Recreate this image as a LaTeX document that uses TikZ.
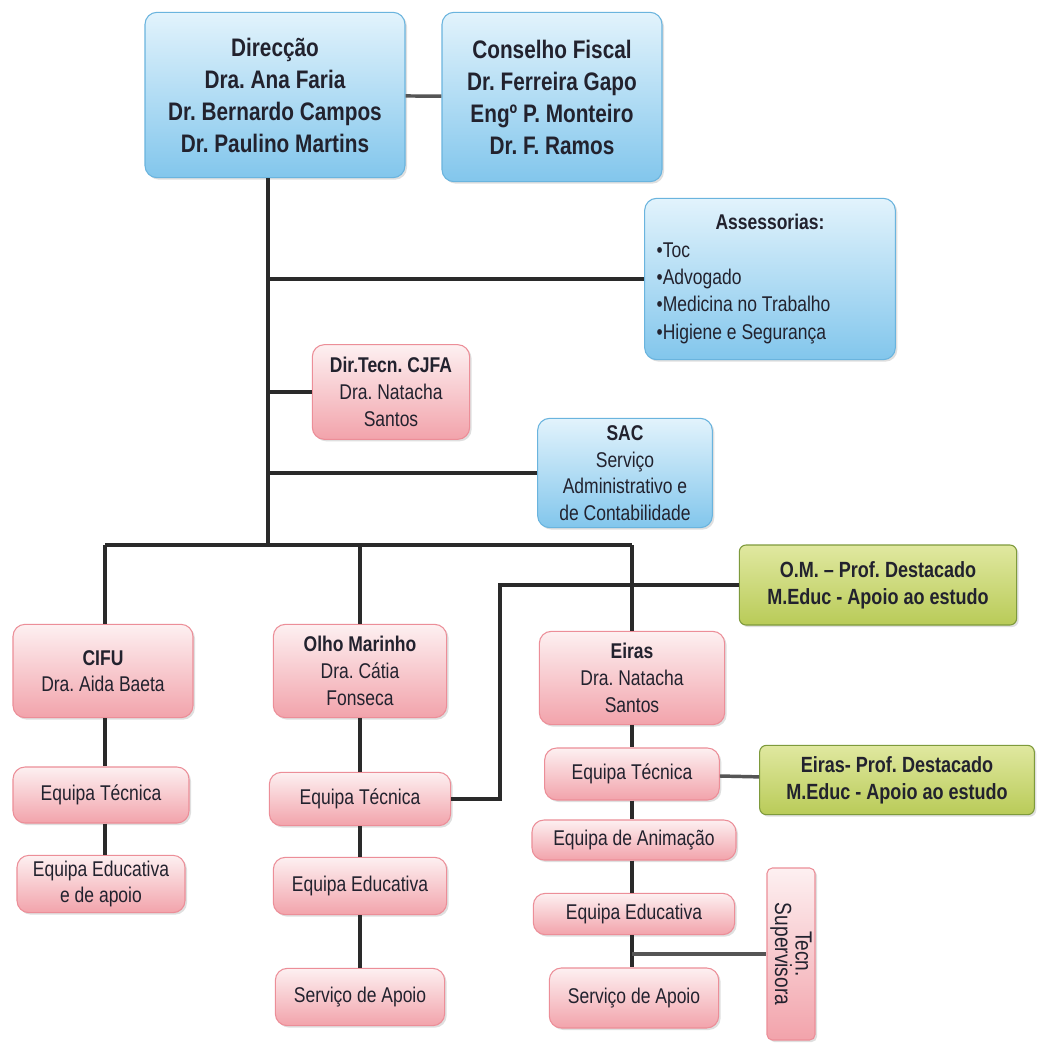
\documentclass[tikz,border=0pt]{standalone}
\usepackage{fontspec}
\setmainfont{Liberation Sans}[FakeStretch=0.82]
\usetikzlibrary{shadows}
\frenchspacing
\definecolor{txt}{HTML}{22222E}
\definecolor{bluetop}{HTML}{E2F3FC}
\definecolor{bluebot}{HTML}{82C6EC}
\definecolor{blueedge}{HTML}{6AB4DE}
\definecolor{pinktop}{HTML}{FDF0F1}
\definecolor{pinkbot}{HTML}{F2A3AB}
\definecolor{pinkedge}{HTML}{EC8E98}
\definecolor{greentop}{HTML}{E0E8A0}
\definecolor{greenbot}{HTML}{B9CB58}
\definecolor{greenedge}{HTML}{7E9A3C}
\definecolor{linec}{HTML}{2A2A2A}
\tikzset{
  box/.style={rounded corners=9pt, draw, line width=0.8pt, text=txt, align=center, inner sep=2pt,
    drop shadow={opacity=0.25, shadow xshift=1.5pt, shadow yshift=-1.5pt}},
  bluebox/.style={box, draw=blueedge, top color=bluetop, bottom color=bluebot},
  pinkbox/.style={box, draw=pinkedge, top color=pinktop, bottom color=pinkbot},
  greenbox/.style={box, rounded corners=5pt, draw=greenedge, top color=greentop, bottom color=greenbot},
  big/.style={font=\fontsize{19}{24}\selectfont\bfseries\frenchspacing},
  small/.style={font=\fontsize{16}{20}\selectfont\frenchspacing},
  gtext/.style={font=\fontsize{16.5}{20}\selectfont\bfseries\frenchspacing},
  conn/.style={draw=linec, line width=2.6pt}
}
\begin{document}
\begin{tikzpicture}[x=0.75pt,y=-0.75pt]
\fill[white] (0,0) rectangle (1037,1043);
\useasboundingbox (0,0) rectangle (1037,1043);

% top level
\node[bluebox, big, minimum width=195pt, minimum height=124pt] (dir) at (275,95)
  {Direcção\\Dra. Ana Faria\\Dr. Bernardo Campos\\Dr. Paulino Martins};
\node[bluebox, big, minimum width=165pt, minimum height=127pt] (cf) at (552,97)
  {Conselho Fiscal\\Dr. Ferreira Gapo\\Engº P. Monteiro\\Dr. F. Ramos};
\node[bluebox, font=\fontsize{16}{20.6}\selectfont\frenchspacing, text width=170pt, inner xsep=9pt, minimum height=121pt, align=flush left] (ass) at (770,279)
  {\makebox[170pt]{\textbf{Assessorias:}}\\•Toc\\•Advogado\\•Medicina no Trabalho\\•Higiene e Segurança};
\node[pinkbox, small, minimum width=118pt, minimum height=71pt] (dt) at (391,392)
  {\textbf{Dir.Tecn. CJFA}\\Dra. Natacha\\Santos};
\node[bluebox, small, minimum width=131pt, minimum height=82pt] (sac) at (625,473)
  {\textbf{SAC}\\Serviço\\Administrativo e\\de Contabilidade};

% green boxes
\node[greenbox, gtext, minimum width=208pt, minimum height=60pt] (om) at (878,585)
  {O.M. -- Prof. Destacado\\M.Educ - Apoio ao estudo};
\node[greenbox, gtext, minimum width=206pt, minimum height=52pt] (eg) at (897,780)
  {Eiras- Prof. Destacado\\M.Educ - Apoio ao estudo};

% second level
\node[pinkbox, small, minimum width=135pt, minimum height=70pt] (cifu) at (103,671)
  {\textbf{CIFU}\\Dra. Aida Baeta};
\node[pinkbox, small, minimum width=130pt, minimum height=70pt] (olho) at (360,671)
  {\textbf{Olho Marinho}\\Dra. Cátia\\Fonseca};
\node[pinkbox, small, minimum width=139pt, minimum height=70pt] (eiras) at (632,678)
  {\textbf{Eiras}\\Dra. Natacha\\Santos};

% CIFU column
\node[pinkbox, small, minimum width=132pt, minimum height=42pt] (ceqt) at (101,795) {Equipa Técnica};
\node[pinkbox, small, minimum width=126pt, minimum height=43pt] (ceqe) at (101,884) {Equipa Educativa\\e de apoio};

% Olho Marinho column
\node[pinkbox, small, minimum width=136pt, minimum height=40pt] (oeqt) at (360,799) {Equipa Técnica};
\node[pinkbox, small, minimum width=130pt, minimum height=43pt] (oeqe) at (360,886) {Equipa Educativa};
\node[pinkbox, small, minimum width=127pt, minimum height=43pt] (oserv) at (360,997) {Serviço de Apoio};

% Eiras column
\node[pinkbox, small, minimum width=131pt, minimum height=39pt] (eeqt) at (632,774) {Equipa Técnica};
\node[pinkbox, small, minimum width=153pt, minimum height=30pt] (eanim) at (634,840) {Equipa de Animação};
\node[pinkbox, small, minimum width=151pt, minimum height=31pt] (eeqe) at (634,914) {Equipa Educativa};
\node[pinkbox, font=\fontsize{17.5}{15.5}\selectfont, rounded corners=4pt, rotate=-90, minimum width=129pt, minimum height=36pt, inner sep=1pt] (tecn) at (791,954)
  {Tecn.\\Supervisora};
\node[pinkbox, small, minimum width=127pt, minimum height=45pt] (eserv) at (634,998) {Serviço de Apoio};

% coordinates
\coordinate (bt) at (268,545);
\coordinate (bl) at (105,545);
\coordinate (br) at (632,545);
\coordinate (omx) at (500,0);

% connectors
\draw[conn, draw=linec!80] (dir) -- (cf);
\draw[conn] (dir.south -| bt) -- (bt);
\draw[conn] (bt |- ass.west) -- (ass.west);
\draw[conn] (bt |- dt.west) -- (dt.west);
\draw[conn] (bt |- sac.west) -- (sac.west);
\draw[conn] (bl) -- (br);
\draw[conn] (bl) -- (cifu.north -| bl);
\draw[conn] (olho.north |- bl) -- (olho.north);
\draw[conn] (br) -- (eiras.north);
\draw[conn] (om.west) -- (om.west -| omx) -- (omx |- oeqt.east) -- (oeqt.east);
\draw[conn] (cifu.south -| bl) -- (ceqt.north -| bl);
\draw[conn] (ceqt.south -| bl) -- (ceqe.north -| bl);
\draw[conn] (olho) -- (oeqt);
\draw[conn] (oeqt) -- (oeqe);
\draw[conn] (oeqe) -- (oserv);
\draw[conn] (eiras.south) -- (eeqt.north);
\draw[conn] (eeqt.south) -- (eanim.north -| eeqt.south);
\draw[conn] (eanim.south -| eeqt.south) -- (eeqe.north -| eeqt.south);
\draw[conn] (eeqe.south -| eeqt.south) -- (eserv.north -| eeqt.south);
\draw[conn, draw=linec!80] (eeqt) -- (eg);
\draw[conn, draw=linec!80] (tecn.south -| eeqt.south) -- (tecn.south);
\end{tikzpicture}
\end{document}
